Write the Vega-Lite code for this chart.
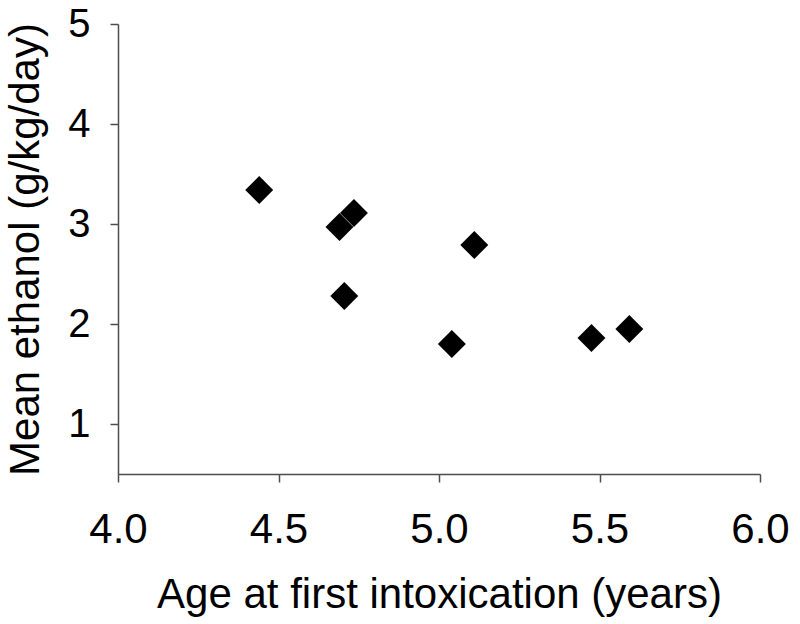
{
  "$schema": "https://vega.github.io/schema/vega-lite/v6.json",
  "width": 642,
  "height": 450,
  "autosize": {"type": "none"},
  "padding": {"left": 118, "top": 24, "right": 40, "bottom": 150},
  "background": "white",
  "config": {"view": {"stroke": null}, "font": "Liberation Sans"},
  "data": {"values": [
    {"age": 4.44, "ethanol": 3.34},
    {"age": 4.69, "ethanol": 2.97},
    {"age": 4.735, "ethanol": 3.11},
    {"age": 4.705, "ethanol": 2.28},
    {"age": 5.11, "ethanol": 2.79},
    {"age": 5.04, "ethanol": 1.8},
    {"age": 5.475, "ethanol": 1.86},
    {"age": 5.593, "ethanol": 1.95}
  ]},
  "mark": {"type": "point", "shape": "diamond", "filled": true, "color": "black", "opacity": 1, "size": 780},
  "encoding": {
    "x": {
      "field": "age", "type": "quantitative",
      "scale": {"domain": [4, 6], "nice": false, "zero": false},
      "axis": {
        "title": "Age at first intoxication (years)",
        "values": [4, 4.5, 5, 5.5, 6], "format": ".1f",
        "grid": false, "domainColor": "#4d4d4d", "domainWidth": 1.5,
        "tickColor": "#4d4d4d", "tickWidth": 1.5, "tickSize": 8,
        "labelFlush": false, "labelOverlap": false,
        "labelFontSize": 42, "labelColor": "black", "labelPadding": 27,
        "titleFontSize": 42, "titleFontWeight": "normal", "titleColor": "black", "titlePadding": 24
      }
    },
    "y": {
      "field": "ethanol", "type": "quantitative",
      "scale": {"domain": [0.5, 5], "nice": false, "zero": false},
      "axis": {
        "title": "Mean ethanol (g/kg/day)",
        "values": [1, 2, 3, 4, 5], "format": "d",
        "grid": false, "domainColor": "#4d4d4d", "domainWidth": 1.5,
        "tickColor": "#4d4d4d", "tickWidth": 1.5, "tickSize": 8,
        "labelFlush": false, "labelOverlap": false,
        "labelFontSize": 40, "labelColor": "black", "labelPadding": 20,
        "titleFontSize": 42, "titleFontWeight": "normal", "titleColor": "black", "titlePadding": 20
      }
    }
  }
}
